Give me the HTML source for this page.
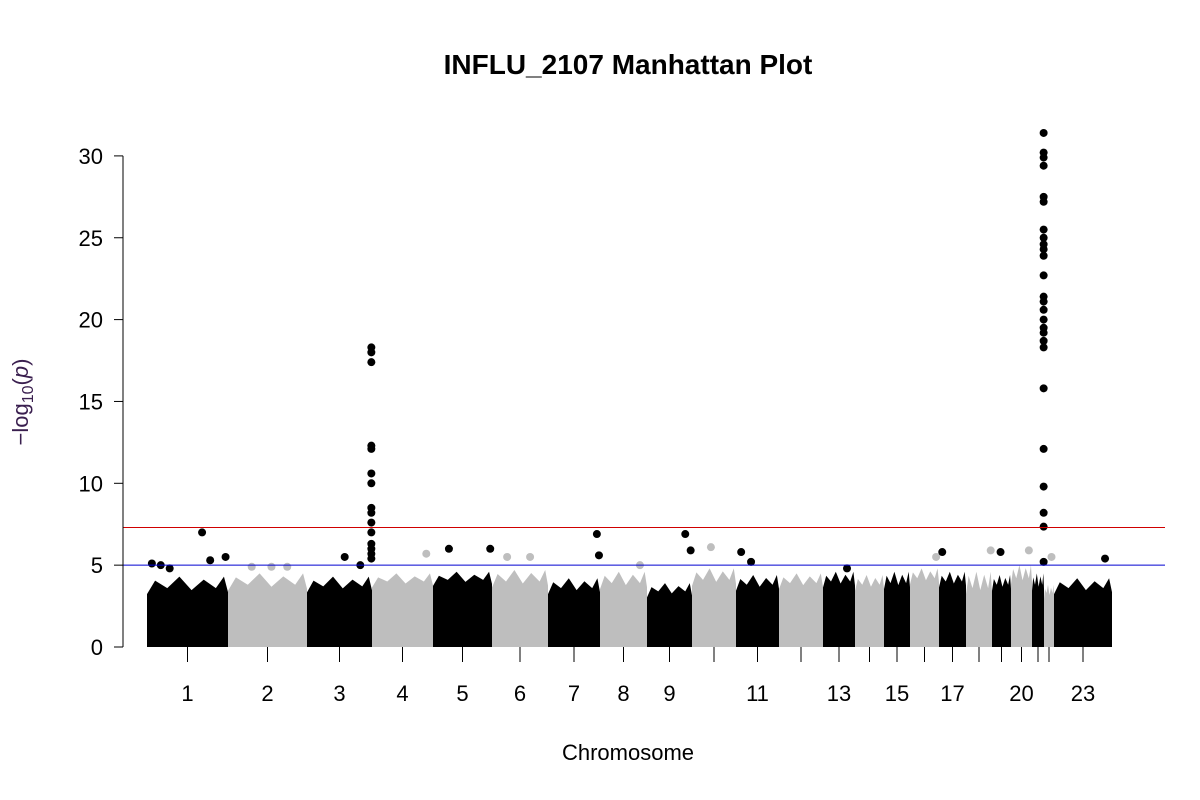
<!DOCTYPE html>
<html><head><meta charset="utf-8"><style>
html,body{margin:0;padding:0;background:#fff;}
svg{display:block;font-family:"Liberation Sans",Arial,sans-serif;}
</style></head><body>
<svg id="chart" width="1200" height="800" viewBox="0 0 1200 800">
<text x="628" y="74" text-anchor="middle" font-size="28" font-weight="bold">INFLU_2107 Manhattan Plot</text>
<text x="628" y="760" text-anchor="middle" font-size="22">Chromosome</text>
<text transform="translate(28,402) rotate(-90)" text-anchor="middle" font-size="22" fill="#3a1f4f">−log<tspan font-size="16" dy="5">10</tspan><tspan dy="-5">(</tspan><tspan font-style="italic">p</tspan>)</text>
<g id="bulk"></g><g id="pts"></g><g id="axes"></g>
</svg>
<script>
const chromLengths=[81,79,65,61,59,56,52,47,45,44,43,44,32,29,26,29,27,26,19,21,12,10,58];
const chromLabels=["1","2","3","4","5","6","7","8","9","","11","","13","","15","","17","","","20","","","23"];
const bulkTops=[4.3,4.5,4.3,4.5,4.6,4.7,4.2,4.6,3.9,4.8,4.4,4.5,4.6,4.4,4.6,4.8,4.6,4.6,4.4,5.0,4.5,3.8,4.2];
const bulkLows=[3.6,3.8,3.7,4.0,4.1,4.0,3.6,3.9,3.4,4.1,3.8,3.9,4.0,3.8,3.9,4.2,4.0,3.6,3.8,4.2,3.8,3.3,3.6];
const yTicks=[0,5,10,15,20,25,30];
const hitChrom=[1,1,1,1,1,1,2,2,2,3,3,4,5,5,6,6,7,7,8,9,9,10,11,11,13,16,17,18,19,20,22,23];
const hitFrac=[0.06,0.17,0.28,0.68,0.78,0.97,0.3,0.55,0.75,0.58,0.82,0.89,0.27,0.97,0.27,0.68,0.94,0.98,0.85,0.85,0.97,0.43,0.12,0.35,0.75,0.9,0.12,0.95,0.45,0.85,0.75,0.88];
const hitVal=[5.1,5.0,4.8,7.0,5.3,5.5,4.9,4.9,4.9,5.5,5.0,5.7,6.0,6.0,5.5,5.5,6.9,5.6,5.0,6.9,5.9,6.1,5.8,5.2,4.8,5.5,5.8,5.9,5.8,5.9,5.5,5.4];
const peak3Vals=[18.3,18.0,17.4,12.3,12.1,10.6,10.0,8.5,8.2,7.6,7.0,6.3,6.0,5.7,5.4];
const peak21Vals=[31.4,30.2,29.9,29.4,27.5,27.2,25.5,25.0,24.6,24.3,23.9,22.7,21.4,21.1,20.6,20.0,19.5,19.2,18.7,18.3,15.8,12.1,9.8,8.2,7.35,5.2];
const suggestive=5, genomewide=7.3;

const NS="http://www.w3.org/2000/svg";
const X0=147,X1=1112,Y0=647,YPU=16.37;
const total=chromLengths.reduce((a,b)=>a+b,0);
const starts=[];let acc=0;chromLengths.forEach(l=>{starts.push(acc);acc+=l;});
const xs=v=>X0+(v/total)*(X1-X0);
const ys=v=>Y0-v*YPU;
const col=i=>i%2===0?"#000":"#bebebe";
function mk(tag,attrs,parent){const e=document.createElementNS(NS,tag);for(const k in attrs)e.setAttribute(k,attrs[k]);parent.appendChild(e);return e;}
const bulk=document.getElementById('bulk'),pts=document.getElementById('pts'),axes=document.getElementById('axes');
chromLengths.forEach((l,i)=>{
  const a=xs(starts[i]),b=xs(starts[i]+l),w=b-a;
  const hi=ys(bulkTops[i]),lo=ys(bulkLows[i]),base=ys(0);
  const d=`M${a},${base} L${a},${lo+6} L${a+w*0.1},${hi+4} L${a+w*0.25},${lo} L${a+w*0.4},${hi} L${a+w*0.55},${lo+2} L${a+w*0.7},${hi+3} L${a+w*0.85},${lo} L${a+w*0.95},${hi} L${b},${lo+4} L${b},${base} Z`;
  const r=mk('path',{d:d,fill:col(i)},bulk);
  
  
});
hitChrom.forEach((c,k)=>{
  const i=c-1;
  const d=mk('circle',{cx:xs(starts[i]+hitFrac[k]*chromLengths[i]),cy:ys(hitVal[k]),r:4,fill:col(i)},pts);
  
  
});
peak3Vals.forEach(v=>{
  const d=mk('circle',{cx:xs(starts[2]+0.99*chromLengths[2]),cy:ys(v),r:4,fill:"#000"},pts);
  
  
});
peak21Vals.forEach(v=>{
  const d=mk('circle',{cx:xs(starts[20]+0.97*chromLengths[20]),cy:ys(v),r:4,fill:"#000"},pts);
  
  
});
const l1=mk('line',{x1:123,x2:1165,y1:ys(genomewide),y2:ys(genomewide),stroke:"#d00000","stroke-width":1},axes);


const l2=mk('line',{x1:123,x2:1165,y1:ys(suggestive),y2:ys(suggestive),stroke:"#0000d0","stroke-width":1},axes);


const ya=mk('line',{x1:123,x2:123,y1:ys(0),y2:ys(30),stroke:"#000","stroke-width":1},axes);


yTicks.forEach(t=>{
  const tl=mk('line',{x1:114,x2:123,y1:ys(t),y2:ys(t),stroke:"#000"},axes);
  
  
  const tx=mk('text',{x:103,y:ys(t)+8,"text-anchor":"end","font-size":22},axes);
  tx.textContent=t;
  
  
});
chromLengths.forEach((l,i)=>{
  const cx=xs(starts[i]+l/2);
  const tl=mk('line',{x1:cx,x2:cx,y1:647,y2:662,stroke:"#000"},axes);
  
  
  if(chromLabels[i]){
    const tx=mk('text',{x:cx,y:701,"text-anchor":"middle","font-size":22},axes);
    tx.textContent=chromLabels[i];
    
    
  }
});
</script>
</body></html>
